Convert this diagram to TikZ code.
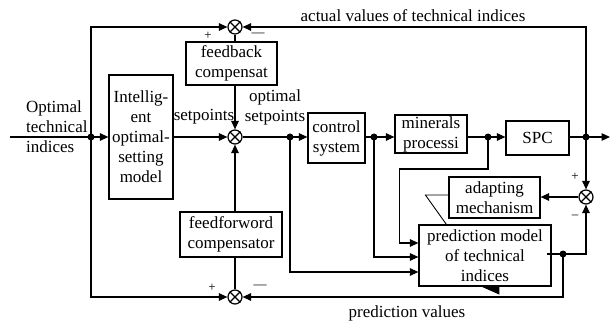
\documentclass[tikz,border=0pt]{standalone}
\usepackage{fontspec}
\setmainfont{Liberation Serif}
\usetikzlibrary{arrows.meta,calc}
\begin{document}
\begin{tikzpicture}[x=1pt,y=-1pt,
  blk/.style={draw, line width=1.2pt, inner sep=0pt, align=center, font=\fontsize{17}{20}\selectfont},
  sumj/.style={draw, circle, line width=1.2pt, minimum size=14pt, inner sep=0pt},
  dotn/.style={circle, fill, minimum size=7pt, inner sep=0pt},
  arr/.style={-{Triangle[length=8.5pt,width=7.5pt]}},
  ln/.style={line width=1.2pt},
  thinln/.style={line width=0.9pt},
  lbl/.style={font=\fontsize{17}{20}\selectfont, inner sep=0pt},
  sgn/.style={font=\fontsize{13}{13}\selectfont, inner sep=0pt}]
\useasboundingbox (0,0) rectangle (611,326);
\fill[white] (0,0) rectangle (611,326);
% blocks
\node[blk, minimum width=64pt, minimum height=124pt] (iom) at (141,137) {Intellig-\\ent\\optimal-\\setting\\model};
\node[blk, minimum width=91pt, minimum height=43pt] (fb) at (231.5,63.5) {feedback\\compensat};
\node[blk, minimum width=102pt, minimum height=45pt] (ff) at (231,234.5) {feedforword\\compensator};
\node[blk, minimum width=57pt, minimum height=50pt] (cs) at (336.5,138) {control\\system};
\node[blk, minimum width=72pt, minimum height=38pt] (mp) at (431,134) {minerals\\processi};
\node[blk, minimum width=63pt, minimum height=34pt] (spc) at (537.5,138) {SPC};
\node[blk, minimum width=91pt, minimum height=41pt] (am) at (494.5,197.5) {adapting\\mechanism};
\node[blk, minimum width=132pt, minimum height=61pt] (pm) at (485,255.5) {prediction model\\of technical\\indices};
% summing junctions
\node[sumj] (s1) at (235,27) {};
\node[sumj] (s2) at (235,137) {};
\node[sumj] (s3) at (235,297) {};
\node[sumj] (s4) at (586,197) {};
\foreach \s in {s1,s2,s3,s4} \draw[ln] (\s.45) -- (\s.225) (\s.135) -- (\s.315);
% coordinates
\coordinate (in) at (10,137);
\coordinate (out) at (610,137);
\coordinate (po) at (547,254);
\coordinate (j0) at (91,137);
\coordinate (j1) at (290,137);
\coordinate (j2) at (374,137);
\coordinate (j3) at (488,137);
\coordinate (j4) at (586,137);
\coordinate (j5) at (563,254);
% connectors
\draw[ln,arr] (in) -- (iom.west);
\draw[ln,arr] (j0) |- (s1.west);
\draw[ln,arr] (j0) |- (s3.west);
\draw[ln,arr] (iom.east) -- (s2.west);
\draw[ln] (s1.south) -- (s1 |- fb.north);
\draw[ln,arr] (s2 |- fb.south) -- (s2.north);
\draw[ln] (s3.north) -- (s3 |- ff.south);
\draw[ln,arr] (s2 |- ff.north) -- (s2.south);
\draw[ln,arr] (s2.east) -- (cs.west |- s2);
\draw[ln,arr] (j1) |- ($(pm.west)+(0,16.5)$);
\draw[ln,arr] (cs.east |- j2) -- (mp.west |- j2);
\draw[ln,arr] (j2) |- ($(pm.west)+(0,1.5)$);
\draw[ln,arr] (mp.east |- j3) -- (spc.west |- j3);
\draw[ln,arr] (j3) -- ++(0,32) -| ($(pm.west)+(-19,-12.5)$) -- ($(pm.west)+(0,-12.5)$);
\draw[ln,arr] (spc.east |- j4) -- (out);
\draw[ln,arr] (j4) |- (s1.east);
\draw[ln,arr] (j4) -- (s4.north);
\draw[ln,arr] (s4.west) -- (am.east |- s4);
\draw[ln] (po) -- (j5);
\draw[ln,arr] (j5) -| (s4.south);
\draw[ln,arr] (j5) |- (s3.east);
% adaptation symbol
\draw[thinln] ($(am.west)+(0,-2.5)$) -- ++(-23,0) -- ($(pm.north west)+(28,0)$);
\fill ($(pm.south west)+(63,0)$) -- ($(pm.south west)+(81,0)$) -- ($(pm.south west)+(81,8)$) -- cycle;
% dots
\foreach \j in {j0,j1,j2,j3,j4,j5} \node[dotn] at (\j) {};
% labels
\node[lbl, anchor=west, align=flush left] (lin) at (26,127) {Optimal\\technical\\indices};
\node[lbl] (lsp) at (204,117) {setpoints};
\node[lbl, align=center] (lop) at (275,107) {optimal\\setpoints};
\node[lbl] (lav) at (413,16) {actual values of technical indices};
\node[lbl] (lpv) at (407,313) {prediction values};
\node[sgn] (p1) at (208,36) {+};
\node[sgn] (m1) at (258,35) {---};
\node[sgn] (p3) at (212,288) {+};
\node[sgn] (m3) at (260,287) {---};
\node[sgn] (p4) at (575,177) {+};
\node[sgn] (m4) at (575,217) {--};
\end{tikzpicture}
\end{document}
